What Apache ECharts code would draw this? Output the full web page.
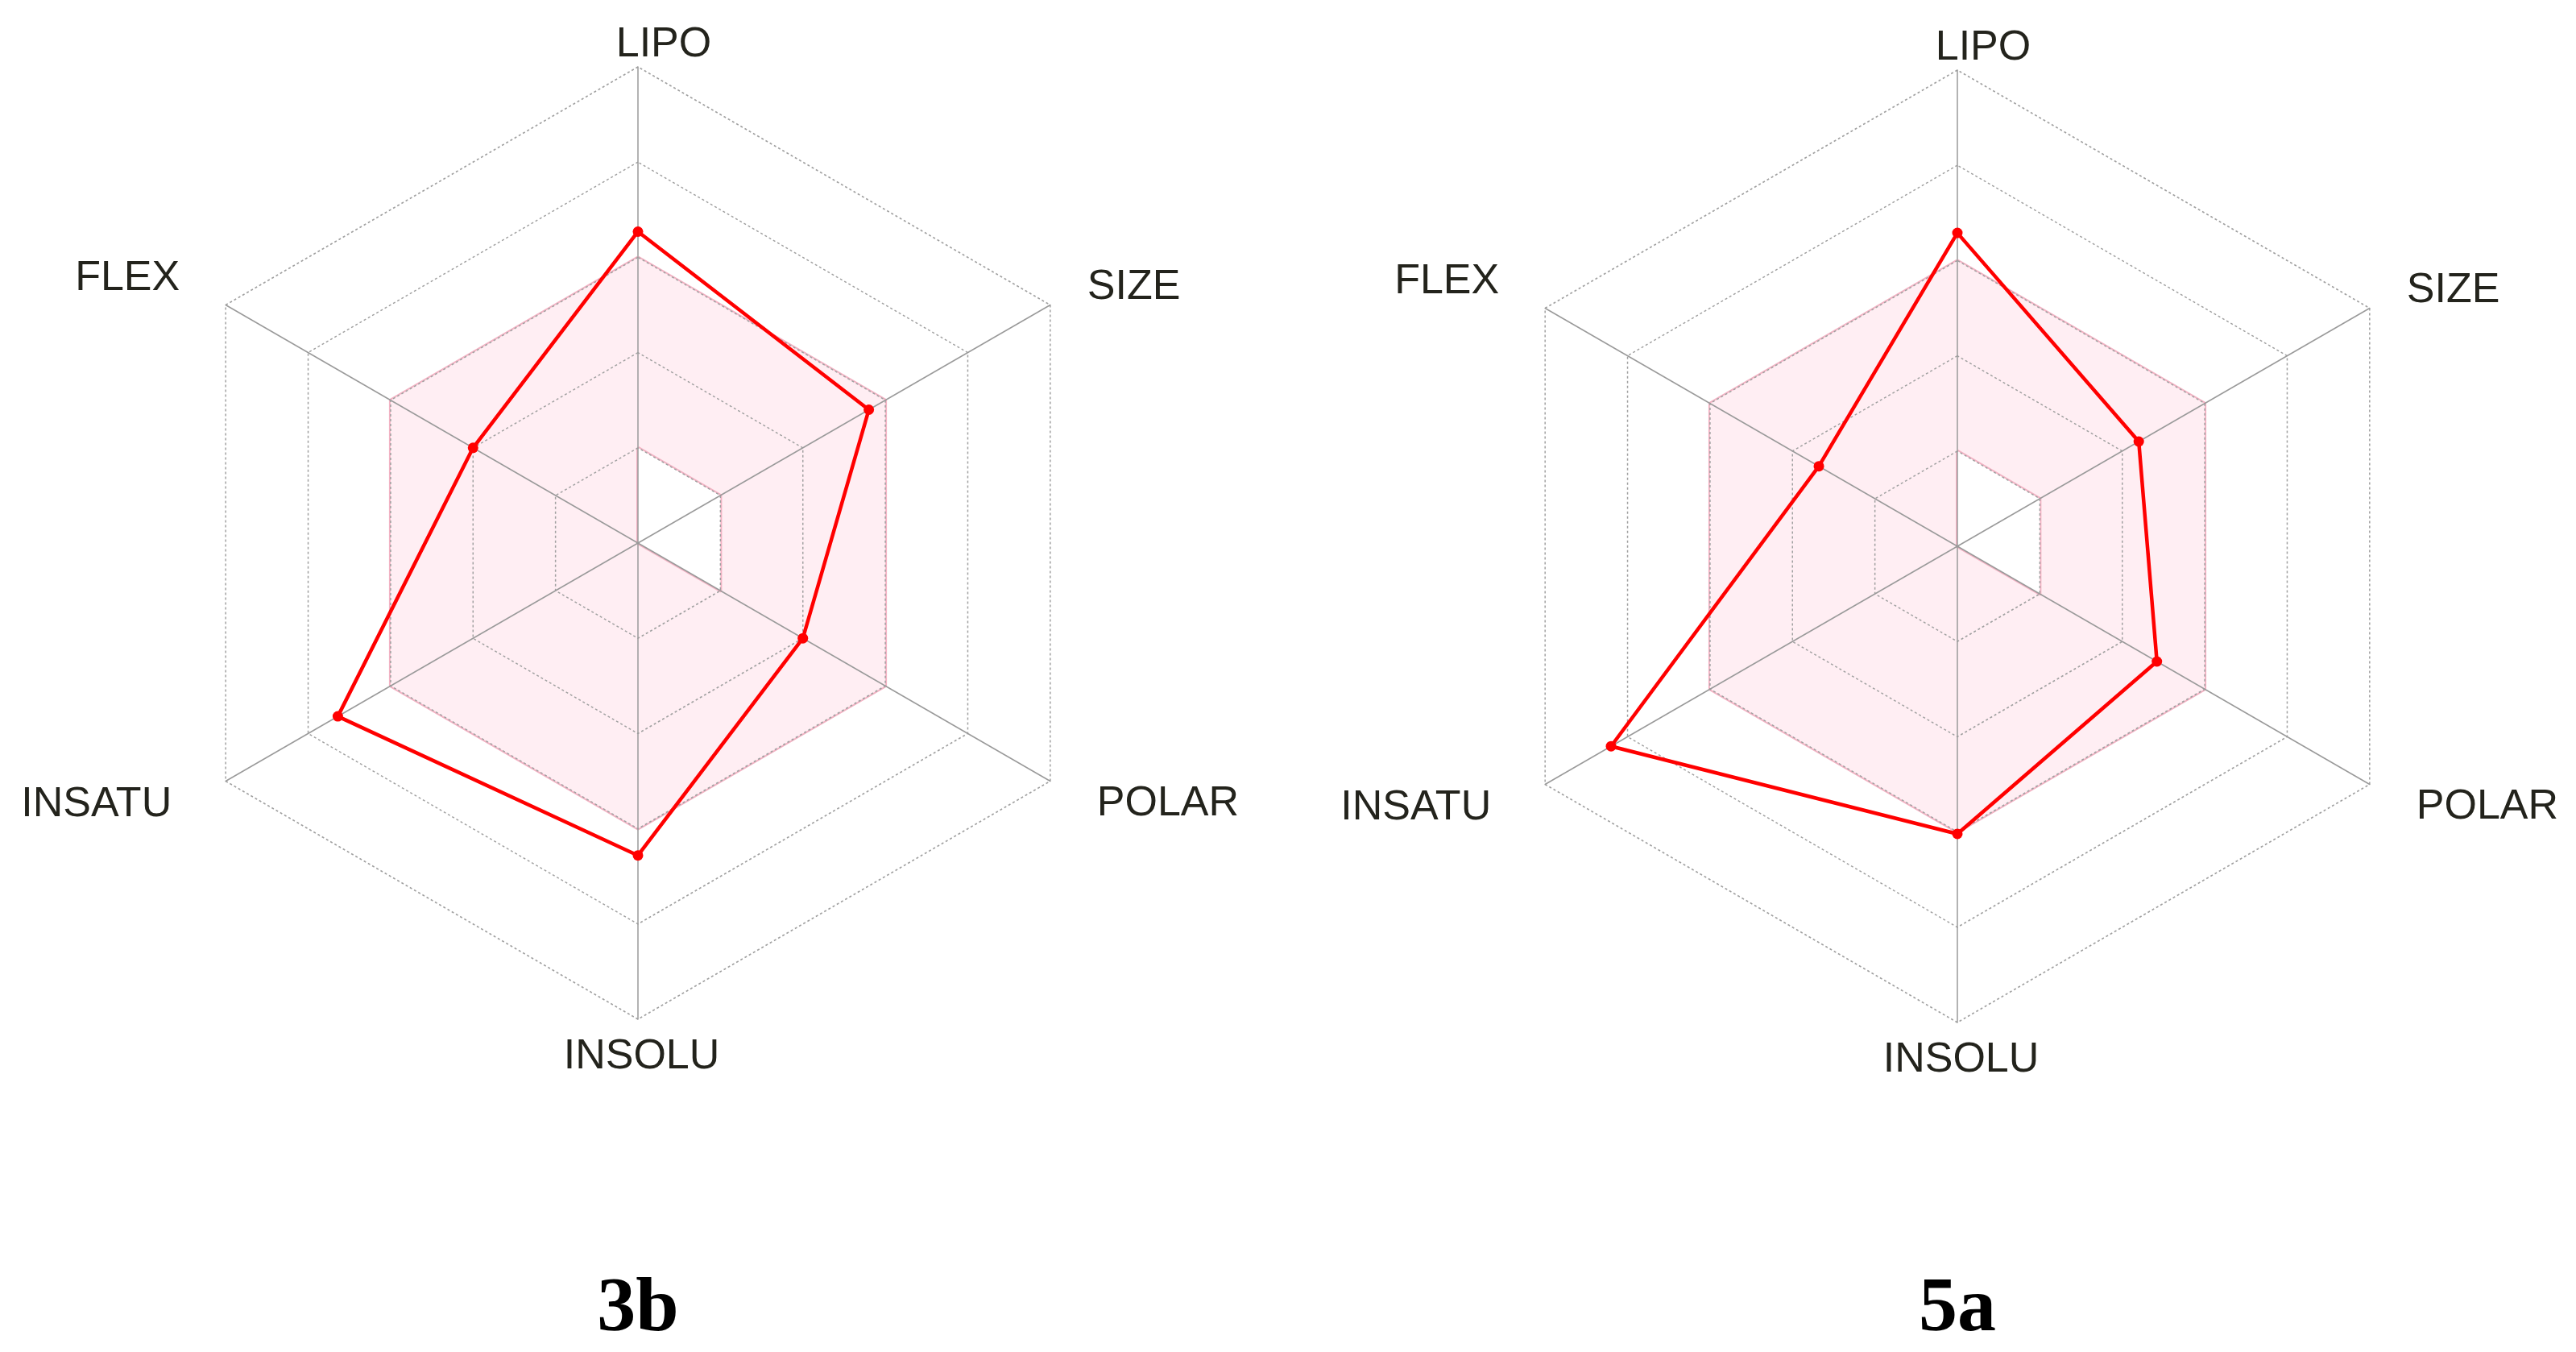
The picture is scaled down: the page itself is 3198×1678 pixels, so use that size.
<!DOCTYPE html>
<html>
<head>
<meta charset="utf-8">
<title>3b / 5a radar</title>
<script src="https://cdn.jsdelivr.net/npm/echarts@6/dist/echarts.min.js"></script>
<style>
  html, body { margin: 0; padding: 0; background: #fff; }
  #main { width: 3198px; height: 1678px; }
</style>
</head>
<body>
<div id="main"></div>
<script>
// axis order as echarts places them (counter-clockwise from the top)
var axes = ['LIPO', 'FLEX', 'INSATU', 'INSOLU', 'POLAR', 'SIZE'];
var axisMax = 5;

// pink optimal-range band: outer edge and inner edge
var rangeOuter = [3, 3, 3, 3, 3, 3];
var rangeInner = [1, 0, 0, 0, 1, 1];

var titles = ['3b', '5a'];
var values3b = [3.27, 2.0, 3.64, 3.28, 2.0, 2.80];
var values5a = [3.29, 1.68, 4.2, 3.02, 2.42, 2.2];

var centers = [[792, 674], [2430, 678]];
var radius = 591;

var chart = echarts.init(document.getElementById('main'));

// per-label nudge so names sit where the original puts them
var namePad = {
    LIPO: [0, 0, 2, 64],
    FLEX: [4, 57, 70, 0],
    INSATU: [59, 67, 0, 0],
    INSOLU: [42, 0, 0, 9],
    POLAR: [57, 0, 0, 58],
    SIZE: [0, 0, 43, 46]
};
var rich = {};
axes.forEach(function (a) {
    rich[a.toLowerCase()] = {
        fontSize: 52,
        lineHeight: 52,
        fontFamily: 'Liberation Sans, Arial, sans-serif',
        color: '#23231c',
        padding: namePad[a]
    };
});

function makeRadar(i) {
    return {
        center: centers[i],
        radius: radius,
        startAngle: 90,
        splitNumber: 5,
        shape: 'polygon',
        z: 3,
        axisNameGap: 0,
        indicator: axes.map(function (a) { return {name: a, min: 0, max: axisMax}; }),
        axisName: {
            formatter: function (name) { return '{' + name.toLowerCase() + '|' + name + '}'; },
            rich: rich
        },
        axisLine: {lineStyle: {color: '#9a9a9a', width: 1.5}},
        splitLine: {lineStyle: {color: '#a0a0a0', width: 1.5, type: [3, 3]}},
        splitArea: {show: false}
    };
}

function bandSeries(i) {
    return [{
        type: 'radar', radarIndex: i, z: 1, silent: true, symbol: 'none',
        lineStyle: {color: '#f3b3c4', width: 4},
        areaStyle: {color: '#ffeef3', opacity: 1},
        data: [{value: rangeOuter}]
    }, {
        type: 'radar', radarIndex: i, z: 2, silent: true, symbol: 'none',
        lineStyle: {color: '#f3b3c4', width: 4},
        areaStyle: {color: '#ffffff', opacity: 1},
        data: [{value: rangeInner}]
    }];
}

function valueSeries(i, vals) {
    return {
        type: 'radar', radarIndex: i, z: 4, silent: true,
        symbol: 'circle', symbolSize: 13,
        lineStyle: {color: '#ff0000', width: 4.5},
        itemStyle: {color: '#ff0000'},
        data: [{value: vals}]
    };
}

var option = {
    animation: false,
    backgroundColor: '#fff',
    title: titles.map(function (t, i) {
        return {
            text: t, left: centers[i][0], top: 1578, textAlign: 'center', padding: 0,
            textStyle: {fontFamily: 'Liberation Serif, Times New Roman, serif', fontWeight: 'bold', fontSize: 96, color: '#000'}
        };
    }),
    radar: [makeRadar(0), makeRadar(1)],
    series: bandSeries(0).concat(bandSeries(1), [valueSeries(0, values3b), valueSeries(1, values5a)])
};

chart.setOption(option);
</script>
</body>
</html>
